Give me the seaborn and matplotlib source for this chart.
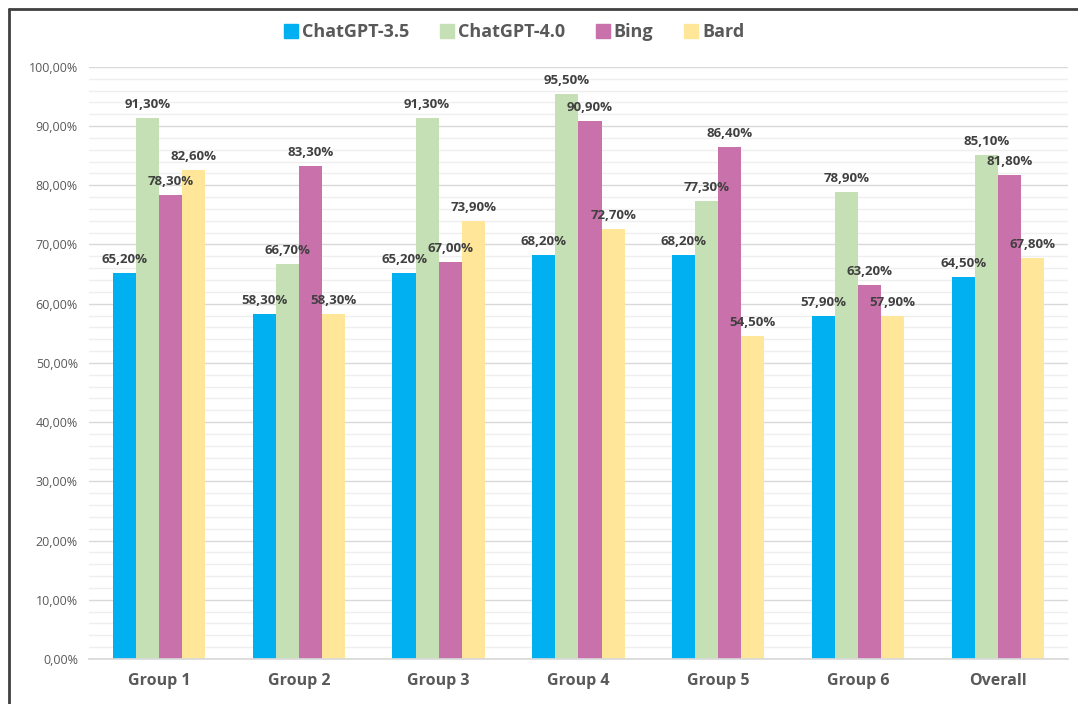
import pandas as pd
import numpy as np
import matplotlib.pyplot as plt
import seaborn as sns
from matplotlib.ticker import MultipleLocator, FuncFormatter
from matplotlib.lines import Line2D

# dados (em %)
grupos = ["Group 1", "Group 2", "Group 3", "Group 4", "Group 5", "Group 6", "Overall"]
modelos = ["ChatGPT-3.5", "ChatGPT-4.0", "Bing", "Bard"]
chatgpt35 = [65.2, 58.3, 65.2, 68.2, 68.2, 57.9, 64.5]
chatgpt40 = [91.3, 66.7, 91.3, 95.5, 77.3, 78.9, 85.1]
bing = [78.3, 83.3, 67.0, 90.9, 86.4, 63.2, 81.8]
bard = [82.6, 58.3, 73.9, 72.7, 54.5, 57.9, 67.8]
cores = ["#00B0F0", "#C5E0B4", "#C971AB", "#FFE699"]

df = pd.DataFrame({"Grupo": grupos, "ChatGPT-3.5": chatgpt35, "ChatGPT-4.0": chatgpt40,
                   "Bing": bing, "Bard": bard})
longo = df.melt(id_vars="Grupo", var_name="Modelo", value_name="Valor")
longo["Valor"] = longo["Valor"] / 100

sns.set_theme(style="white")
plt.rcParams['font.family'] = ['Open Sans', 'DejaVu Sans']

fig = plt.figure(figsize=(10.78, 7.04), dpi=100)
ax = fig.add_axes([0.0826, 0.064, 0.908, 0.841])

sns.barplot(data=longo, x="Grupo", y="Valor", hue="Modelo", hue_order=modelos,
            palette=cores, width=0.66, ax=ax, saturation=1, legend=False, linewidth=0)

# rótulos de dados
for cont, mod in zip(ax.containers, modelos):
    vals = df[mod].values
    ax.bar_label(cont, labels=[f"{v:.2f}%".replace(".", ",") for v in vals],
                 padding=5, fontsize=9.5, fontweight="bold", color="#404040")

ax.set_ylim(0, 1.0)
ax.set_xlim(-0.5, 6.5)
ax.yaxis.set_major_locator(MultipleLocator(0.1))
ax.yaxis.set_minor_locator(MultipleLocator(0.02))
ax.yaxis.set_major_formatter(FuncFormatter(lambda v, p: f"{v*100:.2f}%".replace(".", ",")))
ax.grid(which="major", axis="y", color="#D9D9D9", lw=1)
ax.grid(which="minor", axis="y", color="#EFEFEF", lw=1)
ax.set_axisbelow(True)
for s in ["top", "right", "left"]:
    ax.spines[s].set_visible(False)
ax.spines["bottom"].set_color("#D9D9D9")
ax.tick_params(axis="both", which="both", length=0)
ax.tick_params(axis="y", labelsize=9, labelcolor="#595959", pad=8)
ax.tick_params(axis="x", labelsize=11.5, labelcolor="#595959", pad=10)
for t in ax.get_xticklabels():
    t.set_fontweight("bold")
ax.set_xlabel("")
ax.set_ylabel("")

# legenda
handles = [Line2D([0], [0], marker="s", ls="", markersize=10, color=c) for c in cores]
fig.legend(handles, modelos, loc="center", bbox_to_anchor=(0.476, 0.954), ncol=4, frameon=False,
           prop={"size": 13, "weight": "bold"}, labelcolor="#595959",
           handletextpad=0.1, columnspacing=1.6, handlelength=1.0)

# moldura (apenas esquerda e topo visíveis)
fig.add_artist(Line2D([0.0085, 0.0085], [0, 0.987], transform=fig.transFigure, color="#404040", lw=2))
fig.add_artist(Line2D([0.0085, 1.0], [0.987, 0.987], transform=fig.transFigure, color="#404040", lw=2))

plt.savefig("out.png", dpi=100)
